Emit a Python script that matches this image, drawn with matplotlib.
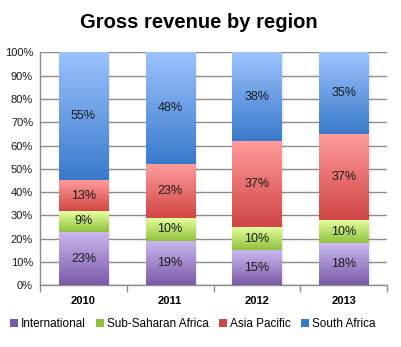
import numpy as np
import matplotlib
matplotlib.use("Agg")
import matplotlib.pyplot as plt
import matplotlib.ticker as ticker
from matplotlib.colors import to_rgb
from matplotlib.patches import Rectangle

plt.rcParams["font.family"] = ["Liberation Sans", "DejaVu Sans"]

years = ["2010", "2011", "2012", "2013"]
regions = ["International", "Sub-Saharan Africa", "Asia Pacific", "South Africa"]
international = [23, 19, 15, 18]
sub_saharan = [9, 10, 10, 10]
asia_pacific = [13, 23, 37, 37]
south_africa = [55, 48, 38, 35]

# (light top, dark bottom) per series
GRADIENTS = [
    ("#cbb9f0", "#7a5aa8"),
    ("#e8ffa0", "#90c23e"),
    ("#ff9c9c", "#cf4644"),
    ("#9cc3ff", "#3a7acb"),
]
GRID = "#8c8c8c"


def gradient_fill(ax, patch, light, dark):
    x0, y0 = patch.get_x(), patch.get_y()
    w, h = patch.get_width(), patch.get_height()
    t = np.linspace(0, 1, 64)[:, None, None]
    img = (1 - t) * np.array(to_rgb(light)) + t * np.array(to_rgb(dark))
    im = ax.imshow(img, extent=[x0, x0 + w, y0, y0 + h], origin="upper",
                   aspect="auto", interpolation="bilinear", zorder=3)
    im.set_clip_path(patch)


fig = plt.figure(figsize=(4.01, 3.47), dpi=100)
ax = fig.add_axes([40 / 401, 61.7 / 347, 347 / 401, 233 / 347])

series = [international, sub_saharan, asia_pacific, south_africa]
x = np.arange(len(years))
bottom = np.zeros(len(years))
for vals, (light, dark) in zip(series, GRADIENTS):
    vals = np.array(vals, dtype=float)
    bars = ax.bar(x, vals, 0.565, bottom=bottom, facecolor="none",
                  edgecolor="none", zorder=3)
    for bar, v, b in zip(bars, vals, bottom):
        # soft shadow on the right edge
        ax.add_patch(Rectangle((bar.get_x() + 0.03, b), bar.get_width(), v,
                               facecolor="#000000", alpha=0.06,
                               edgecolor="none", zorder=2))
        gradient_fill(ax, bar, light, dark)
        ax.text(bar.get_x() + bar.get_width() / 2, b + v / 2, f"{int(v)}%",
                ha="center", va="center", fontsize=9, color="#1a1a1a",
                zorder=4)
    bottom += vals

ax.set_xlim(-0.5, len(years) - 0.5)
ax.set_ylim(0, 100)

ax.yaxis.set_major_locator(ticker.MultipleLocator(10))
ax.yaxis.set_major_formatter(ticker.FuncFormatter(lambda v, _: f"{int(v)}%"))
ax.grid(axis="y", color=GRID, lw=1.0, zorder=0)
ax.set_axisbelow(True)

ax.set_xticks(x)
ax.set_xticklabels(years, fontweight="bold", fontsize=8)
ax.tick_params(axis="x", length=0, pad=8)
ax.set_xticks(np.arange(len(years) + 1) - 0.5, minor=True)
ax.tick_params(axis="x", which="minor", length=5, color=GRID, width=1.0)
ax.tick_params(axis="y", length=0, labelsize=8, pad=5, colors="#1a1a1a")

for side in ("top", "right"):
    ax.spines[side].set_visible(False)
for side in ("left", "bottom"):
    ax.spines[side].set_color(GRID)
    ax.spines[side].set_linewidth(1.0)

fig.suptitle("Gross revenue by region", x=0.497, y=0.962, fontsize=14.5,
             fontweight="bold")

handles = [Rectangle((0, 0), 1, 1, facecolor=dark, edgecolor="none")
           for _, dark in GRADIENTS]
fig.legend(handles, regions, loc="center", bbox_to_anchor=(0.48, 0.066),
           ncol=4, frameon=False, fontsize=8.5, handlelength=0.7,
           handleheight=0.7, handletextpad=0.2, columnspacing=0.9)

fig.savefig("out.png", dpi=100)
